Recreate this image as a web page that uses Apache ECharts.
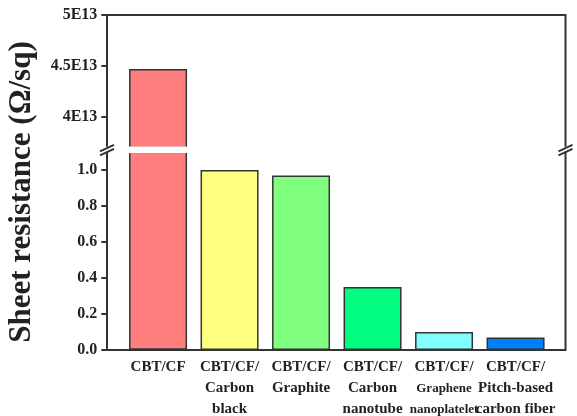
<!DOCTYPE html>
<html>
<head>
<meta charset="utf-8">
<script src="https://cdn.jsdelivr.net/npm/echarts@6/dist/echarts.min.js"></script>
<style>html,body{margin:0;padding:0;background:#fff}#c{width:577px;height:416px}</style>
</head>
<body>
<div id="c"></div>
<script>
const categories = ['CBT/CF', 'CBT/CF/\nCarbon\nblack', 'CBT/CF/\nGraphite', 'CBT/CF/\nCarbon\nnanotube', 'CBT/CF/\nGraphene\nnanoplatelet', 'CBT/CF/\nPitch-based\ncarbon fiber'];
const values = [4.47e13, 1.0, 0.97, 0.35, 0.10, 0.07];
const barColors = ['#FF7F7F', '#FFFF80', '#80FF80', '#00FF80', '#80FFFF', '#0080FF'];
const lowerTicks = [0, 0.2, 0.4, 0.6, 0.8, 1.0];
const lowerLabels = ['0.0', '0.2', '0.4', '0.6', '0.8', '1.0'];
const upperTicks = [4e13, 4.5e13, 5e13];
const upperLabels = ['4E13', '4.5E13', '5E13'];
const lowerRange = [0, 1.1];
const upperRange = [3.7e13, 5e13];
const yTitle = 'Sheet resistance (Ω/sq)';

const FONT = '"Liberation Serif", "Times New Roman", serif';
const chart = echarts.init(document.getElementById('c'), null, {renderer: 'canvas'});

const labelStyle = {fontFamily: FONT, fontWeight: 'bold', fontSize: 16, color: '#222'};
function tickAxis(gridIndex, range, ticks, labels) {
  return {
    type: 'value', gridIndex: gridIndex, min: range[0], max: range[1], offset: 15,
    axisLine: {show: false},
    splitLine: {show: false},
    axisTick: {show: true, customValues: ticks, length: 6, inside: false, lineStyle: {color: '#333', width: 2}},
    axisLabel: Object.assign({show: true, customValues: ticks, margin: 10,
      formatter: function (v) { const i = ticks.findIndex(t => Math.abs(t - v) < Math.abs(range[1]) * 1e-6); return i >= 0 ? labels[i] : ''; }}, labelStyle)
  };
}
const itemOf = (v, i) => ({value: v, itemStyle: {color: barColors[i]}});
const upperData = values.map((v, i) => v >= upperRange[0] ? itemOf(v, i) : '-');
const lowerData = values.map(itemOf);

const option = {
  animation: false,
  backgroundColor: '#fff',
  grid: [
    {left: 122.3, right: 25.7, top: 15, height: 132.6, outerBoundsMode: 'none', containLabel: false},
    {left: 122.3, right: 25.7, top: 152, bottom: 66, outerBoundsMode: 'none', containLabel: false},
    {left: 107, right: 11.5, top: 15, bottom: 66, outerBoundsMode: 'none', containLabel: false, show: true, borderColor: '#333', borderWidth: 2, backgroundColor: 'transparent'}
  ],
  xAxis: [
    {type: 'category', gridIndex: 0, data: categories, show: false},
    {type: 'category', gridIndex: 1, data: categories, axisLine: {show: false}, axisTick: {show: false},
      axisLabel: {interval: 0, margin: 7, lineHeight: 21, fontFamily: FONT, fontWeight: 'bold', fontSize: 15, color: '#222',
        formatter: function (v) { return v.indexOf('Graphene') >= 0 ? '{s|' + v.split('\n')[0] + '}\n{t|' + v.split('\n').slice(1).join('}\n{t|') + '}' : v; },
        rich: {s: {fontFamily: FONT, fontWeight: 'bold', fontSize: 15, color: '#222', lineHeight: 21},
               t: {fontFamily: FONT, fontWeight: 'bold', fontSize: 13, color: '#222', lineHeight: 21}}}},
    {type: 'category', gridIndex: 2, data: [''], show: false}
  ],
  yAxis: [
    tickAxis(0, upperRange, upperTicks, upperLabels),
    tickAxis(1, lowerRange, lowerTicks, lowerLabels),
    {type: 'value', gridIndex: 2, min: 0, max: 1, show: false}
  ],
  series: [
    {type: 'bar', xAxisIndex: 0, yAxisIndex: 0, data: upperData, barWidth: 58, clip: true,
      itemStyle: {borderColor: '#333', borderWidth: 1.5}},
    {type: 'bar', xAxisIndex: 1, yAxisIndex: 1, data: lowerData, barWidth: 58, clip: true,
      itemStyle: {borderColor: '#333', borderWidth: 1.5}}
  ]
};
chart.setOption(option);

// axis break decoration: white band across the plot at the gap, plus // marks on both frame sides
function breakMark(x, y) {
  return [
    {type: 'rect', shape: {x: x - 3, y: y - 3, width: 6, height: 5}, style: {fill: '#fff'}, z: 100},
    {type: 'line', shape: {x1: x - 7, y1: y + 1.5, x2: x + 7, y2: y - 5}, style: {stroke: '#333', lineWidth: 2}, z: 101},
    {type: 'line', shape: {x1: x - 7, y1: y + 5.5, x2: x + 7, y2: y - 1}, style: {stroke: '#333', lineWidth: 2}, z: 101}
  ];
}
const gTop = chart.convertToPixel({gridIndex: 0}, [0, upperRange[0]])[1];
const gBot = chart.convertToPixel({gridIndex: 1}, [0, lowerRange[1]])[1];
const yBreak = (gTop + gBot) / 2;
chart.setOption({graphic: [
  {type: 'rect', shape: {x: 108.5, y: gTop - 1, width: 455.5, height: gBot - gTop + 2}, style: {fill: '#fff'}, z: 99}
].concat(breakMark(107, yBreak), breakMark(565.5, yBreak), [
  {type: 'text', x: 22, y: 192, rotation: Math.PI / 2, z: 100,
    style: {text: yTitle, align: 'center', verticalAlign: 'middle', fontFamily: FONT, fontWeight: 'bold', fontSize: 31, fill: '#222'}}
])});
</script>
</body>
</html>
